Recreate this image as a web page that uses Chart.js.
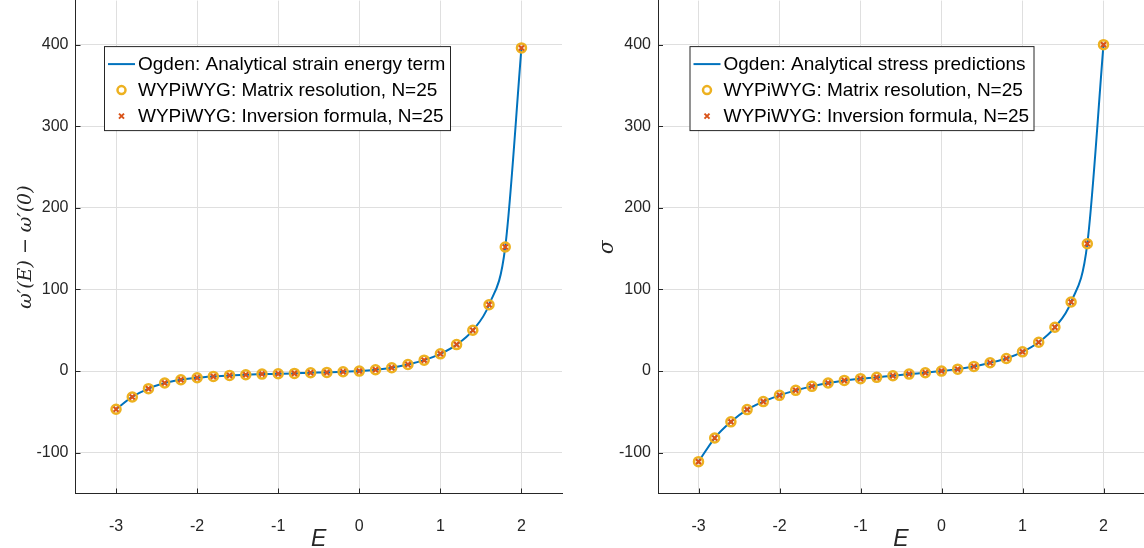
<!DOCTYPE html>
<html>
<head>
<meta charset="utf-8">
<script src="https://cdn.jsdelivr.net/npm/chart.js@4"></script>
<style>
  html, body { margin: 0; padding: 0; background: #fff; overflow: hidden; }
  .box { position: absolute; top: -16px; height: 564px; }
  #leftBox { left: 0; width: 572px; }
  #rightBox { left: 574px; width: 577px; }
</style>
</head>
<body>
<div class="box" id="leftBox"><canvas id="energyChart"></canvas></div>
<div class="box" id="rightBox"><canvas id="stressChart"></canvas></div>
<script>
// Дані
const strainE = [-3.0, -2.8, -2.6, -2.4, -2.2, -2.0, -1.8, -1.6, -1.4, -1.2, -1.0, -0.8, -0.6,
                 -0.4, -0.2, 0.0, 0.2, 0.4, 0.6, 0.8, 1.0, 1.2, 1.4, 1.6, 1.8, 2.0];
const energyValues = [-46.7, -31.7, -21.5, -14.6, -10.6, -8.1, -6.5, -5.3, -4.5, -3.7, -3.3, -2.8, -2.0,
                      -1.6, -0.8, 0.0, 1.6, 4.1, 8.1, 13.4, 21.1, 32.5, 50.0, 81.3, 152.0, 396.0];
const stressValues = [-111.0, -82.0, -62.2, -47.2, -37.4, -29.7, -23.6, -18.7, -14.6, -11.4, -9.3, -7.7, -5.7,
                      -3.7, -2.0, 0.0, 2.4, 5.7, 10.2, 15.4, 23.6, 35.4, 53.7, 84.6, 156.0, 400.0];
const xTicks = [-3, -2, -1, 0, 1, 2];
const yTicks = [-100, 0, 100, 200, 300, 400];
const energyLabels = ['Ogden: Analytical strain energy term', 'WYPiWYG: Matrix resolution, N=25', 'WYPiWYG: Inversion formula, N=25'];
const stressLabels = ['Ogden: Analytical stress predictions', 'WYPiWYG: Matrix resolution, N=25', 'WYPiWYG: Inversion formula, N=25'];

const AXIS = '#262626';
const GRID = '#dfdfdf';
const BLUE = '#0072BD';
const YELLOW = '#EDB120';
const ORANGE = '#D95319';
const FONT = "'Liberation Sans', Arial, sans-serif";

function toPoints(ys) {
    return strainE.map((x, i) => ({ x: x, y: ys[i] }));
}

// легенда всередині області графіка + внутрішні риски осей
const insideLegend = {
    id: 'insideLegend',
    afterDraw(chart, args, opts) {
        const ctx = chart.ctx;
        const a = chart.chartArea;
        // риски всередину
        ctx.save();
        ctx.strokeStyle = AXIS;
        ctx.lineWidth = 1;
        const xs = chart.scales.x, ys = chart.scales.y;
        xs.ticks.forEach(t => {
            const px = Math.round(xs.getPixelForValue(t.value)) + 0.5;
            ctx.beginPath(); ctx.moveTo(px, a.bottom); ctx.lineTo(px, a.bottom - 5); ctx.stroke();
        });
        ys.ticks.forEach(t => {
            const py = Math.round(ys.getPixelForValue(t.value)) + 0.5;
            ctx.beginPath(); ctx.moveTo(a.left, py); ctx.lineTo(a.left + 5, py); ctx.stroke();
        });

        const bx = a.left + opts.dx, by = a.top + opts.dy, bw = opts.w, bh = 84;
        ctx.fillStyle = '#fff';
        ctx.fillRect(bx, by, bw, bh);
        ctx.strokeStyle = AXIS;
        ctx.strokeRect(bx + 0.5, by + 0.5, bw, bh);
        ctx.font = '19px ' + FONT;
        ctx.textBaseline = 'middle';
        const rows = [by + 18, by + 44, by + 70];
        // лінія
        ctx.strokeStyle = BLUE; ctx.lineWidth = 2;
        ctx.beginPath(); ctx.moveTo(bx + 4, rows[0]); ctx.lineTo(bx + 31, rows[0]); ctx.stroke();
        // коло
        ctx.strokeStyle = YELLOW; ctx.lineWidth = 2.5;
        ctx.beginPath(); ctx.arc(bx + 17.5, rows[1], 4, 0, Math.PI * 2); ctx.stroke();
        // хрестик
        ctx.strokeStyle = ORANGE; ctx.lineWidth = 2;
        ctx.beginPath();
        ctx.moveTo(bx + 15, rows[2] - 2.5); ctx.lineTo(bx + 20, rows[2] + 2.5);
        ctx.moveTo(bx + 20, rows[2] - 2.5); ctx.lineTo(bx + 15, rows[2] + 2.5);
        ctx.stroke();
        ctx.fillStyle = '#000';
        opts.labels.forEach((t, i) => ctx.fillText(t, bx + 34, rows[i] + 1));
        ctx.restore();
    }
};

function makeConfig(values, labels, yTitle, yTitleFont, yWidth, titlePad, legendDx, legendW, padRight) {
    return {
        type: 'scatter',
        data: {
            datasets: [
                {
                    label: labels[0],
                    data: toPoints(values),
                    showLine: true,
                    borderColor: BLUE,
                    borderWidth: 2,
                    pointRadius: 0,
                    cubicInterpolationMode: 'monotone',
                    order: 3
                },
                {
                    label: labels[1],
                    data: toPoints(values),
                    showLine: false,
                    pointStyle: 'circle',
                    pointRadius: 4.5,
                    borderWidth: 2.5,
                    borderColor: YELLOW,
                    backgroundColor: 'rgba(0,0,0,0)',
                    order: 2
                },
                {
                    label: labels[2],
                    data: toPoints(values),
                    showLine: false,
                    pointStyle: 'crossRot',
                    pointRadius: 3.5,
                    borderWidth: 2.2,
                    borderColor: ORANGE,
                    order: 1
                }
            ]
        },
        options: {
            responsive: true,
            maintainAspectRatio: false,
            animation: false,
            layout: { padding: { top: 0, right: padRight, left: 0, bottom: 0 } },
            plugins: {
                legend: { display: false },
                tooltip: { enabled: false },
                insideLegend: { labels: labels, dx: legendDx, dy: 45.5, w: legendW }
            },
            scales: {
                x: {
                    type: 'linear',
                    min: -3.5,
                    max: 2.5,
                    afterBuildTicks: s => { s.ticks = xTicks.map(v => ({ value: v })); },
                    afterFit: s => { s.height = 54.5; },
                    grid: { color: GRID, drawTicks: false },
                    border: { color: AXIS, width: 1 },
                    ticks: { color: AXIS, font: { family: FONT, size: 16 }, padding: 23, maxRotation: 0 },
                    title: { display: true, text: 'E', color: AXIS, font: { family: FONT, size: 23, style: 'italic', lineHeight: 1 }, padding: { top: 0, bottom: -3 } }
                },
                y: {
                    min: -150,
                    max: 454,
                    afterBuildTicks: s => { s.ticks = yTicks.map(v => ({ value: v })); },
                    afterFit: s => { s.width = yWidth; },
                    grid: { color: GRID, drawTicks: false },
                    border: { color: AXIS, width: 1 },
                    ticks: { color: AXIS, font: { family: FONT, size: 16 }, padding: 7 },
                    title: { display: true, text: yTitle, color: AXIS, font: yTitleFont, padding: titlePad }
                }
            }
        },
        plugins: [insideLegend]
    };
}

const ctx1 = document.getElementById('energyChart').getContext('2d');
new Chart(ctx1, makeConfig(energyValues, energyLabels, 'ω′(E) − ω′(0)',
    { family: "'DejaVu Serif', 'Liberation Serif', serif", size: 19, style: 'italic' }, 75.5,
    { top: 15, bottom: 0 }, 28.5, 346, 10));

const ctx2 = document.getElementById('stressChart').getContext('2d');
new Chart(ctx2, makeConfig(stressValues, stressLabels, 'σ',
    { family: "'DejaVu Serif', 'Liberation Serif', serif", size: 20, style: 'italic' }, 84,
    { top: 22, bottom: 0 }, 31.5, 344, 0));
</script>
</body>
</html>
